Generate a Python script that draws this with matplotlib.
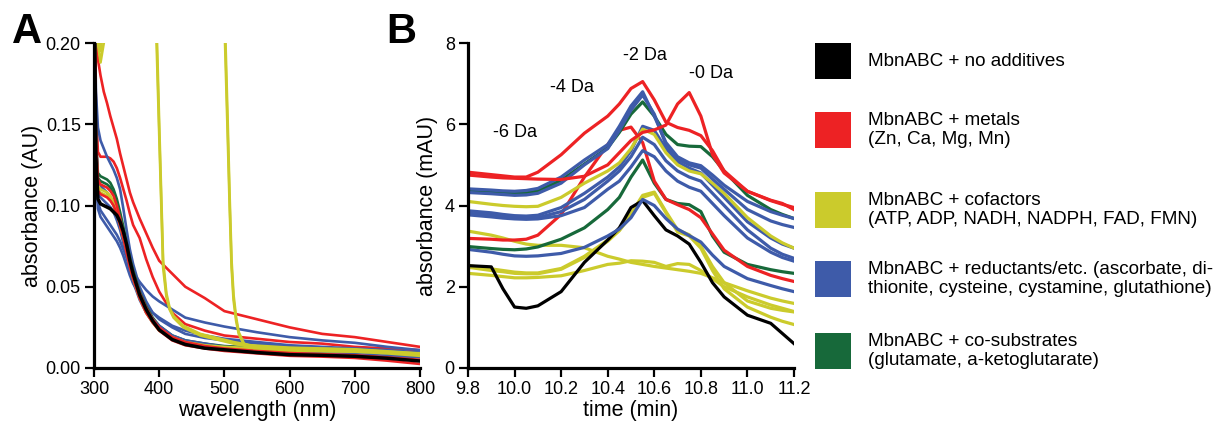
import matplotlib

matplotlib.use("Agg")
import matplotlib.pyplot as plt
from matplotlib.patches import Rectangle

plt.rcParams["font.family"] = ["Liberation Sans", "DejaVu Sans"]

BLACK = "#000000"
RED = "#ED2224"
YELLOW = "#CBCB2C"
BLUE = "#3E5BA9"
GREEN = "#17693A"

# ---- panel A: UV-vis spectra (wavelength in nm, absorbance in AU) ----
WAVELENGTH = [300, 303, 306, 310, 315, 320, 325, 330, 335, 340, 345, 350, 355, 360,
              370, 380, 390, 400, 420, 440, 470, 500, 550, 600, 650, 700, 750, 800]

a_black = [0.25, 0.13, 0.104, 0.101, 0.100, 0.099, 0.098, 0.096, 0.094, 0.090, 0.084, 0.076, 0.066, 0.058,
           0.045, 0.036, 0.029, 0.0235, 0.0175, 0.0145, 0.0122, 0.0112, 0.0095, 0.0082, 0.0078, 0.0072, 0.0060, 0.0043]
a_red_1 = [0.22, 0.20, 0.19, 0.18, 0.17, 0.163, 0.155, 0.148, 0.141, 0.132, 0.124, 0.116, 0.108, 0.102,
           0.092, 0.083, 0.074, 0.066, 0.058, 0.050, 0.043, 0.035, 0.030, 0.025, 0.021, 0.019, 0.016, 0.013]
a_red_2 = [0.25, 0.16, 0.133, 0.130, 0.130, 0.130, 0.129, 0.127, 0.123, 0.117, 0.110, 0.103, 0.095, 0.088,
           0.080, 0.067, 0.056, 0.047, 0.034, 0.027, 0.023, 0.020, 0.018, 0.016, 0.015, 0.013, 0.012, 0.011]
a_red_3 = [0.25, 0.14, 0.116, 0.113, 0.112, 0.111, 0.109, 0.106, 0.100, 0.092, 0.083, 0.074, 0.066, 0.058,
           0.046, 0.037, 0.030, 0.025, 0.019, 0.016, 0.0135, 0.012, 0.0105, 0.0092, 0.0085, 0.0078, 0.0065, 0.0050]
a_red_4 = [0.25, 0.135, 0.109, 0.107, 0.106, 0.105, 0.103, 0.100, 0.095, 0.088, 0.080, 0.071, 0.062, 0.055,
           0.043, 0.034, 0.028, 0.023, 0.017, 0.014, 0.012, 0.0105, 0.009, 0.0075, 0.007, 0.0062, 0.0045, 0.0025]
a_green_1 = [0.25, 0.14, 0.12, 0.118, 0.117, 0.116, 0.114, 0.110, 0.104, 0.096, 0.087, 0.077, 0.068, 0.060,
             0.047, 0.038, 0.031, 0.026, 0.020, 0.017, 0.015, 0.0135, 0.0125, 0.012, 0.0115, 0.011, 0.0095, 0.008]
a_green_2 = [0.25, 0.14, 0.117, 0.115, 0.114, 0.113, 0.111, 0.107, 0.101, 0.093, 0.084, 0.074, 0.065, 0.057,
             0.045, 0.036, 0.030, 0.025, 0.019, 0.016, 0.014, 0.013, 0.012, 0.0115, 0.011, 0.0105, 0.009, 0.0075]
a_yellow_1 = [0.25, 0.135, 0.110, 0.108, 0.107, 0.106, 0.104, 0.100, 0.095, 0.088, 0.080, 0.072, 0.063, 0.055,
              0.043, 0.034, 0.028, 0.023, 0.018, 0.015, 0.013, 0.012, 0.011, 0.0105, 0.0103, 0.010, 0.009, 0.0075]
a_yellow_2 = [0.25, 0.135, 0.112, 0.110, 0.109, 0.108, 0.106, 0.102, 0.097, 0.090, 0.082, 0.073, 0.064, 0.056,
              0.044, 0.035, 0.029, 0.024, 0.019, 0.016, 0.014, 0.013, 0.012, 0.0115, 0.011, 0.0105, 0.0095, 0.0082]
a_blue_1 = [0.25, 0.17, 0.148, 0.140, 0.135, 0.130, 0.126, 0.122, 0.117, 0.110, 0.098, 0.085, 0.073, 0.064,
            0.050, 0.041, 0.034, 0.030, 0.025, 0.021, 0.0185, 0.017, 0.015, 0.013, 0.012, 0.0115, 0.0105, 0.009]
a_blue_2 = [0.25, 0.13, 0.102, 0.097, 0.094, 0.091, 0.088, 0.085, 0.082, 0.078, 0.073, 0.068, 0.063, 0.059,
            0.053, 0.048, 0.044, 0.041, 0.036, 0.031, 0.028, 0.0255, 0.022, 0.019, 0.017, 0.0155, 0.013, 0.011]
a_blue_3 = [0.25, 0.125, 0.098, 0.093, 0.090, 0.087, 0.084, 0.081, 0.078, 0.074, 0.069, 0.063, 0.057, 0.052,
            0.045, 0.039, 0.034, 0.031, 0.026, 0.023, 0.020, 0.018, 0.016, 0.014, 0.013, 0.012, 0.011, 0.0095]
a_blue_4 = [0.25, 0.14, 0.114, 0.112, 0.110, 0.108, 0.105, 0.100, 0.094, 0.087, 0.079, 0.070, 0.062, 0.055,
            0.044, 0.036, 0.030, 0.026, 0.020, 0.017, 0.015, 0.013, 0.012, 0.011, 0.0105, 0.010, 0.009, 0.0078]
a_blue_5 = [0.25, 0.13, 0.107, 0.105, 0.103, 0.101, 0.099, 0.096, 0.091, 0.085, 0.077, 0.068, 0.060, 0.053,
            0.042, 0.034, 0.028, 0.024, 0.018, 0.015, 0.013, 0.0115, 0.0105, 0.0095, 0.009, 0.0085, 0.0075, 0.0065]

# cofactors that absorb strongly (off scale below their cut-off wavelength)
WAVELENGTH_NADH = [300, 306, 310, 315, 320, 390, 396, 400, 403, 406, 411, 416, 422, 437, 463, 514, 540, 600, 700, 800]
a_yellow_nadh = [0.22, 0.20, 0.188, 0.20, 0.23, 0.28, 0.20, 0.144, 0.103, 0.062, 0.044, 0.036, 0.031, 0.025,
                 0.020, 0.015, 0.013, 0.012, 0.011, 0.0085]
a_yellow_nadph = [0.23, 0.21, 0.195, 0.21, 0.24, 0.29, 0.21, 0.150, 0.108, 0.066, 0.046, 0.037, 0.032, 0.026,
                  0.021, 0.016, 0.014, 0.0125, 0.0115, 0.009]
WAVELENGTH_FLAVIN = [300, 490, 497, 501, 505, 508, 511, 514, 518, 522, 530, 545, 600, 700, 800]
a_yellow_fad = [0.90, 0.35, 0.26, 0.20, 0.144, 0.100, 0.062, 0.042, 0.029, 0.021, 0.0143, 0.0123, 0.012, 0.011, 0.0085]
a_yellow_fmn = [0.90, 0.36, 0.27, 0.21, 0.152, 0.106, 0.066, 0.045, 0.031, 0.022, 0.015, 0.0128, 0.0122, 0.0112, 0.0088]

# ---- panel B: HPLC traces (time in min, absorbance in mAU) ----
TIME = [9.8, 9.9, 9.95, 10.0, 10.05, 10.1, 10.2, 10.3, 10.4, 10.45, 10.5, 10.55,
        10.6, 10.65, 10.7, 10.75, 10.8, 10.85, 10.9, 11.0, 11.1, 11.15, 11.2]

b_black = [2.52, 2.49, 1.95, 1.50, 1.47, 1.53, 1.88, 2.60, 3.15, 3.45, 3.95, 4.12,
           3.75, 3.40, 3.25, 3.05, 2.60, 2.10, 1.75, 1.30, 1.10, 0.85, 0.60]
b_red_1 = [4.82, 4.76, 4.73, 4.70, 4.70, 4.82, 5.25, 5.78, 6.20, 6.50, 6.88, 7.05,
           6.60, 6.05, 5.92, 5.85, 5.72, 5.35, 4.85, 4.35, 4.12, 4.03, 3.95]
b_red_2 = [4.75, 4.70, 4.68, 4.67, 4.66, 4.65, 4.64, 4.72, 5.00, 5.30, 5.60, 5.80,
           5.86, 5.98, 6.50, 6.78, 6.20, 5.25, 4.80, 4.35, 4.13, 4.05, 3.90]
b_red_3 = [3.19, 3.17, 3.15, 3.15, 3.17, 3.27, 3.78, 4.70, 5.50, 5.85, 5.93, 5.55,
           4.60, 4.15, 4.02, 3.90, 3.70, 3.30, 2.90, 2.50, 2.28, 2.20, 2.13]
b_green_1 = [4.37, 4.33, 4.31, 4.30, 4.31, 4.36, 4.62, 5.02, 5.42, 5.80, 6.25, 6.55,
             6.20, 5.75, 5.50, 5.46, 5.45, 5.20, 4.85, 4.25, 3.90, 3.78, 3.68]
b_green_2 = [2.99, 2.94, 2.92, 2.91, 2.93, 2.98, 3.17, 3.45, 3.90, 4.20, 4.70, 5.12,
             4.55, 4.15, 4.05, 4.02, 3.85, 3.25, 2.85, 2.55, 2.42, 2.37, 2.33]
b_blue_1 = [4.41, 4.38, 4.36, 4.35, 4.37, 4.42, 4.70, 5.12, 5.50, 5.95, 6.45, 6.80,
            6.20, 5.55, 5.20, 5.05, 4.98, 4.75, 4.50, 4.10, 3.85, 3.76, 3.68]
b_blue_2 = [4.32, 4.29, 4.27, 4.25, 4.26, 4.30, 4.55, 5.00, 5.40, 5.85, 6.35, 6.72,
            6.25, 5.50, 5.15, 5.00, 4.92, 4.65, 4.40, 3.90, 3.62, 3.53, 3.46]
b_blue_3 = [3.87, 3.82, 3.78, 3.75, 3.74, 3.76, 3.95, 4.30, 4.70, 4.95, 5.35, 5.95,
            5.85, 5.40, 5.08, 4.92, 4.80, 4.50, 4.20, 3.60, 3.20, 3.05, 2.95]
b_blue_4 = [3.81, 3.76, 3.72, 3.70, 3.69, 3.70, 3.85, 4.15, 4.60, 4.85, 5.20, 5.68,
            5.50, 5.10, 4.85, 4.70, 4.60, 4.30, 4.00, 3.40, 2.95, 2.80, 2.70]
b_blue_5 = [3.77, 3.72, 3.69, 3.67, 3.66, 3.67, 3.75, 3.95, 4.40, 4.60, 4.95, 5.35,
            5.20, 4.85, 4.60, 4.45, 4.35, 4.05, 3.75, 3.20, 2.85, 2.72, 2.63]
b_blue_6 = [2.92, 2.85, 2.80, 2.76, 2.75, 2.76, 2.82, 2.97, 3.25, 3.42, 3.70, 4.15,
            4.00, 3.68, 3.42, 3.26, 3.10, 2.78, 2.50, 2.20, 2.03, 1.95, 1.88]
b_yellow_1 = [4.10, 4.03, 4.00, 3.98, 3.97, 3.98, 4.20, 4.55, 4.85, 5.05, 5.40, 5.88,
              5.75, 5.30, 5.00, 4.85, 4.78, 4.55, 4.30, 3.70, 3.25, 3.08, 2.95]
b_yellow_2 = [2.52, 2.44, 2.40, 2.36, 2.34, 2.34, 2.45, 2.75, 3.15, 3.40, 3.80, 4.25,
              4.33, 3.85, 3.40, 3.28, 3.00, 2.50, 2.10, 1.65, 1.47, 1.42, 1.38]
b_yellow_3 = [2.48, 2.40, 2.37, 2.33, 2.32, 2.32, 2.43, 2.72, 3.12, 3.38, 3.75, 4.20,
              4.30, 3.82, 3.35, 3.25, 2.95, 2.40, 1.95, 1.50, 1.25, 1.15, 1.07]
b_yellow_4 = [3.37, 3.27, 3.20, 3.12, 3.05, 3.02, 3.02, 2.96, 2.75, 2.68, 2.60, 2.55,
              2.50, 2.46, 2.42, 2.38, 2.33, 2.22, 2.10, 1.90, 1.72, 1.65, 1.59]
b_yellow_5 = [2.33, 2.28, 2.25, 2.22, 2.22, 2.23, 2.27, 2.40, 2.55, 2.58, 2.64, 2.63,
              2.60, 2.50, 2.57, 2.55, 2.40, 2.20, 2.00, 1.75, 1.55, 1.47, 1.39]

PEAK_LABELS = ["-6 Da", "-4 Da", "-2 Da", "-0 Da"]
PEAK_TIME = [10.0, 10.245, 10.56, 10.845]
PEAK_LEVEL = [5.8, 6.9, 7.7, 7.25]

LEGEND_COLORS = [BLACK, RED, YELLOW, BLUE, GREEN]
LEGEND_LABELS = [
    "MbnABC + no additives",
    "MbnABC + metals\n(Zn, Ca, Mg, Mn)",
    "MbnABC + cofactors\n(ATP, ADP, NADH, NADPH, FAD, FMN)",
    "MbnABC + reductants/etc. (ascorbate, di-\nthionite, cysteine, cystamine, glutathione)",
    "MbnABC + co-substrates\n(glutamate, a-ketoglutarate)",
]

W, H = 1223, 422


def _style(ax):
    for side in ("top", "right"):
        ax.spines[side].set_visible(False)
    for side in ("left", "bottom"):
        ax.spines[side].set_linewidth(2.3)
    ax.tick_params(direction="out", length=6.5, width=1.6, labelsize=13, pad=3)


fig = plt.figure(figsize=(W / 100, H / 100), dpi=100)

# panel A
ax_a = fig.add_axes([94 / W, 54 / H, 326 / W, 325 / H])
a_lines = [
    (a_red_1, RED), (a_red_2, RED), (a_blue_1, BLUE), (a_blue_2, BLUE), (a_blue_3, BLUE),
    (a_green_1, GREEN), (a_green_2, GREEN), (a_blue_4, BLUE), (a_blue_5, BLUE),
    (a_yellow_1, YELLOW), (a_yellow_2, YELLOW), (a_red_3, RED), (a_red_4, RED),
]
for vals, color in a_lines:
    ax_a.plot(WAVELENGTH, vals, color=color, lw=1.9)
ax_a.plot(WAVELENGTH_NADH, a_yellow_nadh, color=YELLOW, lw=1.9)
ax_a.plot(WAVELENGTH_NADH, a_yellow_nadph, color=YELLOW, lw=1.9)
ax_a.plot(WAVELENGTH_FLAVIN, a_yellow_fad, color=YELLOW, lw=1.9)
ax_a.plot(WAVELENGTH_FLAVIN, a_yellow_fmn, color=YELLOW, lw=1.9)
ax_a.plot(WAVELENGTH, a_black, color=BLACK, lw=2.5)
ax_a.set_xlim(300, 800)
ax_a.set_ylim(0, 0.2)
ax_a.set_xticks([300, 400, 500, 600, 700, 800])
ax_a.set_yticks([0, 0.05, 0.10, 0.15, 0.20])
ax_a.set_yticklabels(["0.00", "0.05", "0.10", "0.15", "0.20"])
ax_a.set_xlabel("wavelength (nm)", fontsize=15.5, labelpad=1)
ax_a.set_ylabel("absorbance (AU)", fontsize=15.5, labelpad=2)
_style(ax_a)

# panel B
ax_b = fig.add_axes([468 / W, 54 / H, 326 / W, 325 / H])
b_lines = [
    (b_yellow_4, YELLOW), (b_yellow_5, YELLOW), (b_yellow_2, YELLOW), (b_yellow_3, YELLOW),
    (b_black, BLACK), (b_blue_6, BLUE), (b_green_2, GREEN), (b_red_3, RED),
    (b_blue_5, BLUE), (b_blue_4, BLUE), (b_blue_3, BLUE), (b_yellow_1, YELLOW),
    (b_green_1, GREEN), (b_blue_2, BLUE), (b_blue_1, BLUE), (b_red_2, RED), (b_red_1, RED),
]
for vals, color in b_lines:
    ax_b.plot(TIME, vals, color=color, lw=2.3, solid_joinstyle="round")
for label, t, v in zip(PEAK_LABELS, PEAK_TIME, PEAK_LEVEL):
    ax_b.text(t, v, label, ha="center", va="center", fontsize=13)
ax_b.set_xlim(9.8, 11.2)
ax_b.set_ylim(0, 8)
ax_b.set_xticks([9.8, 10.0, 10.2, 10.4, 10.6, 10.8, 11.0, 11.2])
ax_b.set_xticklabels(["9.8", "10.0", "10.2", "10.4", "10.6", "10.8", "11.0", "11.2"])
ax_b.set_yticks([0, 2, 4, 6, 8])
ax_b.set_xlabel("time (min)", fontsize=15.5, labelpad=1)
ax_b.set_ylabel("absorbance (mAU)", fontsize=15.5, labelpad=5)
_style(ax_b)

# panel letters
fig.text(12 / W, 1 - 43 / H, "A", fontsize=30, fontweight="bold", va="baseline")
fig.text(386 / W, 1 - 43 / H, "B", fontsize=30, fontweight="bold", va="baseline")

# legend: coloured squares with labels
legend_centers = [61, 130, 210, 279, 351]
for color, label, yc in zip(LEGEND_COLORS, LEGEND_LABELS, legend_centers):
    fig.patches.append(Rectangle((815 / W, 1 - (yc + 18) / H), 36 / W, 36 / H,
                                 transform=fig.transFigure, facecolor=color, edgecolor="none"))
    fig.text(868 / W, 1 - yc / H, label, fontsize=13.6, va="center", ha="left", linespacing=1.2)

fig.savefig("out.png", dpi=100)
